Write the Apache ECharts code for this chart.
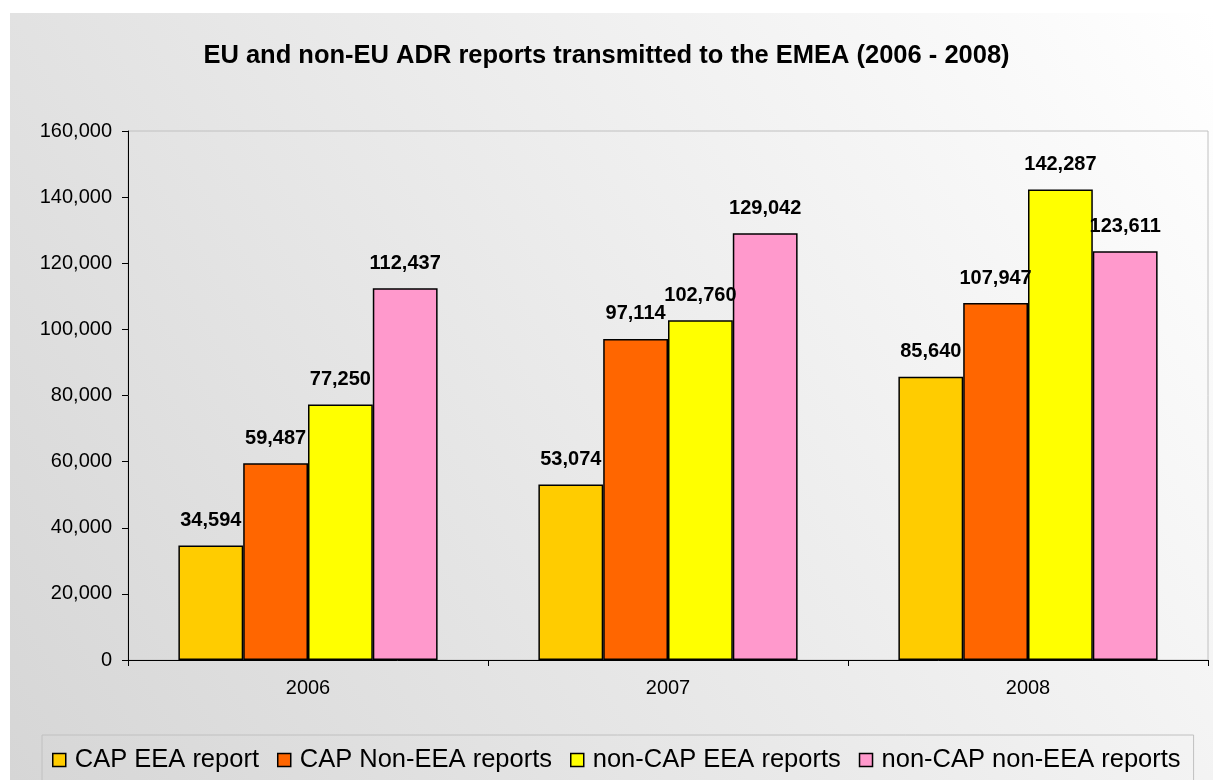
<!DOCTYPE html>
<html>
<head>
<meta charset="utf-8">
<script src="https://cdn.jsdelivr.net/npm/echarts@6/dist/echarts.min.js"></script>
<style>
html,body{margin:0;padding:0;background:#fff;}
#chart{width:1213px;height:780px;}
</style>
</head>
<body>
<div id="chart"></div>
<script>
// categories and series
var years = ['2006', '2007', '2008'];
var seriesNames = ['CAP EEA report', 'CAP Non-EEA reports', 'non-CAP EEA reports', 'non-CAP non-EEA reports'];
var capEea = [34594, 53074, 85640];
var capNonEea = [59487, 97114, 107947];
var nonCapEea = [77250, 102760, 142287];
var nonCapNonEea = [112437, 129042, 123611];
var colors = ['#FFCC00', '#FF6600', '#FFFF00', '#FF99CC'];

var fnt = 'Liberation Sans, Arial, sans-serif';

function fmt(v) {
	return Number(v).toLocaleString('en-US');
}

var allData = [capEea, capNonEea, nonCapEea, nonCapNonEea];
var series = [];
for (var i = 0; i < allData.length; i++) {
	series.push({
		name: seriesNames[i],
		type: 'bar',
		data: allData[i],
		barGap: '0%',
		barCategoryGap: '28%',
		itemStyle: {
			color: colors[i],
			borderColor: '#000',
			borderWidth: 1.5
		},
		label: {
			show: true,
			position: 'top',
			distance: 15,
			color: '#000',
			fontWeight: 'bold',
			fontSize: 20,
			fontFamily: fnt,
			formatter: function(p) { return fmt(p.value); }
		}
	});
}

var myChart = echarts.init(document.getElementById('chart'));
var option = {
	backgroundColor: '#fff',
	animation: false,
	graphic: [{
		type: 'rect',
		left: 10,
		top: 13,
		z: -10,
		shape: { width: 1203, height: 767 },
		style: {
			fill: new echarts.graphic.LinearGradient(1, 0, 0, 1, [
				{ offset: 0, color: '#ffffff' },
				{ offset: 1, color: '#d6d6d6' }
			])
		}
	}],
	title: {
		text: 'EU and non-EU ADR reports transmitted to the EMEA (2006 - 2008)',
		left: 'center',
		top: 38,
		textStyle: {
			color: '#000',
			fontWeight: 'bold',
			fontSize: 25.5,
			fontFamily: fnt
		}
	},
	legend: {
		data: seriesNames,
		left: 42,
		top: 735,
		padding: [12, 13, 20, 10],
		borderColor: '#c0c0c0',
		borderWidth: 1,
		itemWidth: 13,
		itemHeight: 13,
		itemGap: 18,
		icon: 'rect',
		itemStyle: { borderColor: '#000', borderWidth: 1.5 },
		textStyle: { color: '#000', fontSize: 25.5, fontFamily: fnt, padding: [0, 0, 0, 4] }
	},
	grid: {
		left: 128,
		top: 131,
		right: 5,
		bottom: 120,
		show: true,
		borderColor: '#c0c0c0',
		borderWidth: 1,
		backgroundColor: 'transparent'
	},
	xAxis: {
		type: 'category',
		data: years,
		axisLine: { lineStyle: { color: '#000', width: 1 } },
		axisTick: { show: true, length: 6, lineStyle: { color: '#000' } },
		axisLabel: { color: '#000', fontSize: 20, fontFamily: fnt, margin: 18 }
	},
	yAxis: {
		type: 'value',
		min: 0,
		max: 160000,
		interval: 20000,
		splitLine: { show: false },
		axisLine: { show: true, lineStyle: { color: '#000', width: 1 } },
		axisTick: { show: true, length: 6, lineStyle: { color: '#000' } },
		axisLabel: {
			color: '#000',
			fontSize: 20,
			fontFamily: fnt,
			margin: 16,
			formatter: function(v) { return fmt(v); }
		}
	},
	series: series
};
myChart.setOption(option);
</script>
</body>
</html>
